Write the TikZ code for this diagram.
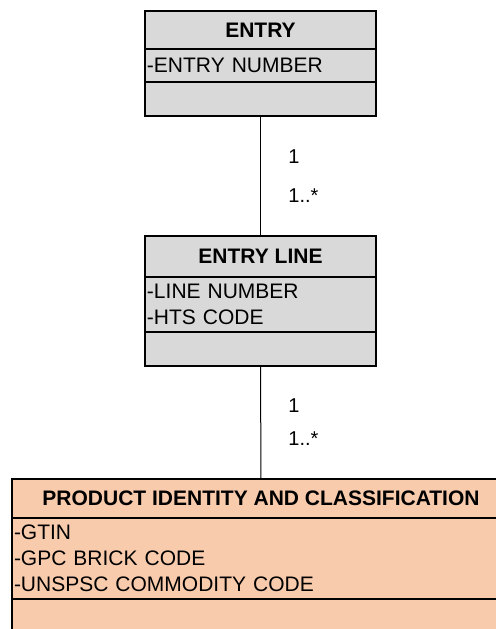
\documentclass[tikz,border=0pt]{standalone}
\usepackage{fontspec}
\setmainfont{Liberation Sans}
\usetikzlibrary{positioning}
\definecolor{classgray}{HTML}{D9D9D9}
\definecolor{classpeach}{HTML}{F8CBAD}
\newcommand{\umlfont}{\fontsize{10.5}{13}\selectfont}
\tikzset{
	classhead/.style = {draw, line width=0.75pt, rectangle, inner sep=0pt, outer sep=0pt,
		font=\umlfont\bfseries, minimum width=#1},
	classattr/.style = {draw, line width=0.75pt, rectangle, inner xsep=1pt, inner ysep=0pt,
		outer sep=0pt, font=\umlfont, align=left, text width=#1},
	classops/.style  = {draw, line width=0.75pt, rectangle, inner sep=0pt, outer sep=0pt,
		minimum width=#1},
	mult/.style      = {inner sep=0pt, font=\fontsize{10}{12}\selectfont, anchor=base west}
}

\begin{document}
\begin{tikzpicture}[x=0.5pt, y=-0.5pt, node distance=0pt]
	\clip (0,0) rectangle (496,629);

	% ENTRY
	\node[classhead=115.5pt, fill=classgray, minimum height=19pt, anchor=north west] (entry) at (145,11) {ENTRY};
	\node[classattr=113.5pt, fill=classgray, minimum height=16.5pt, below=of entry] (entry-attr) {-ENTRY NUMBER};
	\node[classops=115.5pt, fill=classgray, minimum height=17pt, below=of entry-attr] (entry-ops) {};

	% ENTRY LINE
	\node[classhead=115.5pt, fill=classgray, minimum height=20.5pt, anchor=north west] (line) at (145,236) {ENTRY LINE};
	\node[classattr=113.5pt, fill=classgray, minimum height=27.5pt, below=of line] (line-attr) {-LINE NUMBER\\-HTS CODE};
	\node[classops=115.5pt, fill=classgray, minimum height=17pt, below=of line-attr] (line-ops) {};

	% PRODUCT IDENTITY AND CLASSIFICATION
	\node[classhead=249pt, fill=classpeach, minimum height=19.5pt, anchor=north west] (product) at (12,479) {PRODUCT IDENTITY AND CLASSIFICATION};
	\node[classattr=247pt, fill=classpeach, minimum height=40.5pt, below=of product] (product-attr) {-GTIN\\-GPC BRICK CODE\\-UNSPSC COMMODITY CODE};
	\node[classops=249pt, fill=classpeach, minimum height=22pt, below=of product-attr] (product-ops) {};

	% associations
	\draw[line width=0.5pt] (entry-ops.south) -- (line.north);
	\draw[line width=0.5pt] (line-ops.south) -- (product.north);

	\node[mult] (m1) at (288,163) {1};
	\node[mult] (m2) at (288,202) {1..*};
	\node[mult] (m3) at (288,412) {1};
	\node[mult] (m4) at (288,445) {1..*};
\end{tikzpicture}
\end{document}
